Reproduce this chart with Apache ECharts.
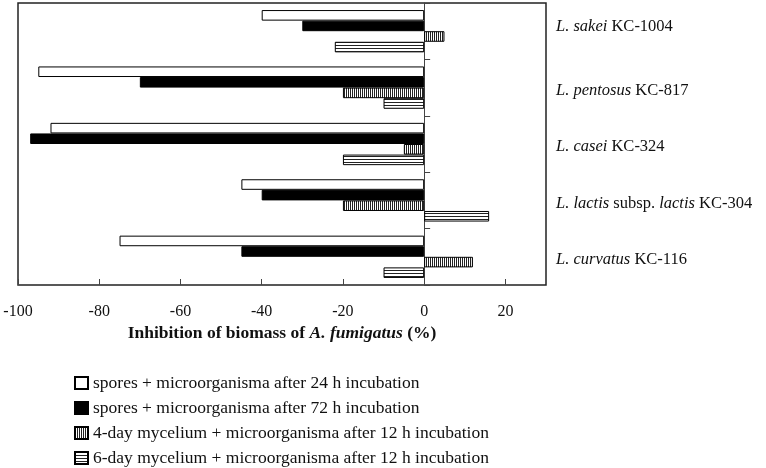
<!DOCTYPE html>
<html>
<head>
<meta charset="utf-8">
<script src="https://cdn.jsdelivr.net/npm/echarts@6/dist/echarts.min.js"></script>
<style>
html, body { margin: 0; padding: 0; background: #fff; }
#chart { width: 766px; height: 468px; }
</style>
</head>
<body>
<div id="chart"></div>
<script>
// categories top to bottom
var strains = ['sakei', 'pentosus', 'casei', 'lactis', 'curvatus'];
var strainLabels = [
    '{it|L. sakei}{tx| KC-1004}',
    '{i|L. pentosus}{t| KC-817}',
    '{i|L. casei}{t| KC-324}',
    '{i|L. lactis}{t| subsp. }{i|lactis}{t| KC-304}',
    '{i|L. curvatus}{t| KC-116}'
];
var seriesNames = [
    'spores + microorganisma after 24 h incubation',
    'spores + microorganisma after 72 h incubation',
    '4-day mycelium + microorganisma after 12 h incubation',
    '6-day mycelium + microorganisma after 12 h incubation'
];
var spores24 = [-40, -95, -92, -45, -75];
var spores72 = [-30, -70, -97, -40, -45];
var myc4 = [5, -20, -5, -20, 12];
var myc6 = [-22, -10, -20, 16, -10];
var xTicks = [-100, -80, -60, -40, -20, 0, 20];

// stripe fills
function stripes(vertical) {
    var c = document.createElement('canvas');
    var n = vertical ? 2 : 3;
    c.width = n;
    c.height = n;
    var ctx = c.getContext('2d');
    ctx.fillStyle = '#fff';
    ctx.fillRect(0, 0, n, n);
    ctx.fillStyle = '#222';
    if (vertical) ctx.fillRect(0, 0, 1, n);
    else ctx.fillRect(0, 0, n, 1);
    return {image: c, repeat: 'repeat'};
}

var font = '"Liberation Serif", "Times New Roman", serif';
var chart = echarts.init(document.getElementById('chart'));

function barSeries(name, data, fill) {
    return {
        name: name,
        type: 'bar',
        data: data,
        barGap: '0%',
        barCategoryGap: '25%',
        itemStyle: {color: fill, borderColor: '#000', borderWidth: 1},
        emphasis: {disabled: true}
    };
}

var lab = {fontFamily: font, fontSize: 16.5, color: '#111'};
var option = {
    animation: false,
    grid: {
        left: 18, right: 220, top: 3, bottom: 183,
        show: true, borderColor: '#222', borderWidth: 1.5,
        containLabel: false
    },
    legend: {
        orient: 'vertical',
        left: 69, top: 369, height: 100,
        icon: 'rect',
        itemWidth: 13, itemHeight: 12, itemGap: 7,
        textStyle: {fontFamily: font, fontSize: 17.5, color: '#111'},
        data: seriesNames
    },
    xAxis: {
        type: 'value',
        min: -100, max: 30, interval: 20,
        axisLine: {show: false},
        axisTick: {show: true, inside: true, length: 6, lineStyle: {color: '#444'}},
        splitLine: {show: false},
        axisLabel: {
            showMaxLabel: false,
            margin: 19,
            fontFamily: font, fontSize: 16, color: '#111',
            formatter: function (v) { return xTicks.indexOf(v) >= 0 ? String(v) : ''; }
        },
        name: 'Inhibition of biomass of {i|A. fumigatus} (%)',
        nameLocation: 'middle',
        nameGap: 39,
        nameTextStyle: {
            fontFamily: font, fontSize: 17.5, fontWeight: 'bold', color: '#111',
            rich: {i: {fontFamily: font, fontSize: 17.5, fontWeight: 'bold', fontStyle: 'italic', color: '#111'}}
        }
    },
    yAxis: [
        {
            type: 'category',
            data: strains,
            inverse: true,
            axisLine: {show: true, onZero: true, lineStyle: {color: '#444', width: 1}},
            axisTick: {show: true, inside: true, length: 6, lineStyle: {color: '#444', width: 1}},
            axisLabel: {show: false}
        },
        {
            type: 'category',
            data: strainLabels,
            inverse: true,
            position: 'right',
            axisLine: {show: false, onZero: false},
            axisTick: {show: false},
            axisLabel: {
                margin: 10,
                fontFamily: font, fontSize: 16.5, color: '#111',
                rich: {
                    i: Object.assign({fontStyle: 'italic', padding: [6, 0, 0, 0]}, lab),
                    t: Object.assign({padding: [6, 0, 0, 0]}, lab),
                    it: Object.assign({fontStyle: 'italic', padding: [0, 0, 10, 0]}, lab),
                    tx: Object.assign({padding: [0, 0, 10, 0]}, lab)
                }
            }
        }
    ],
    series: [
        barSeries(seriesNames[0], spores24, '#fff'),
        barSeries(seriesNames[1], spores72, '#000'),
        barSeries(seriesNames[2], myc4, stripes(true)),
        barSeries(seriesNames[3], myc6, stripes(false))
    ]
};
chart.setOption(option);
</script>
</body>
</html>
